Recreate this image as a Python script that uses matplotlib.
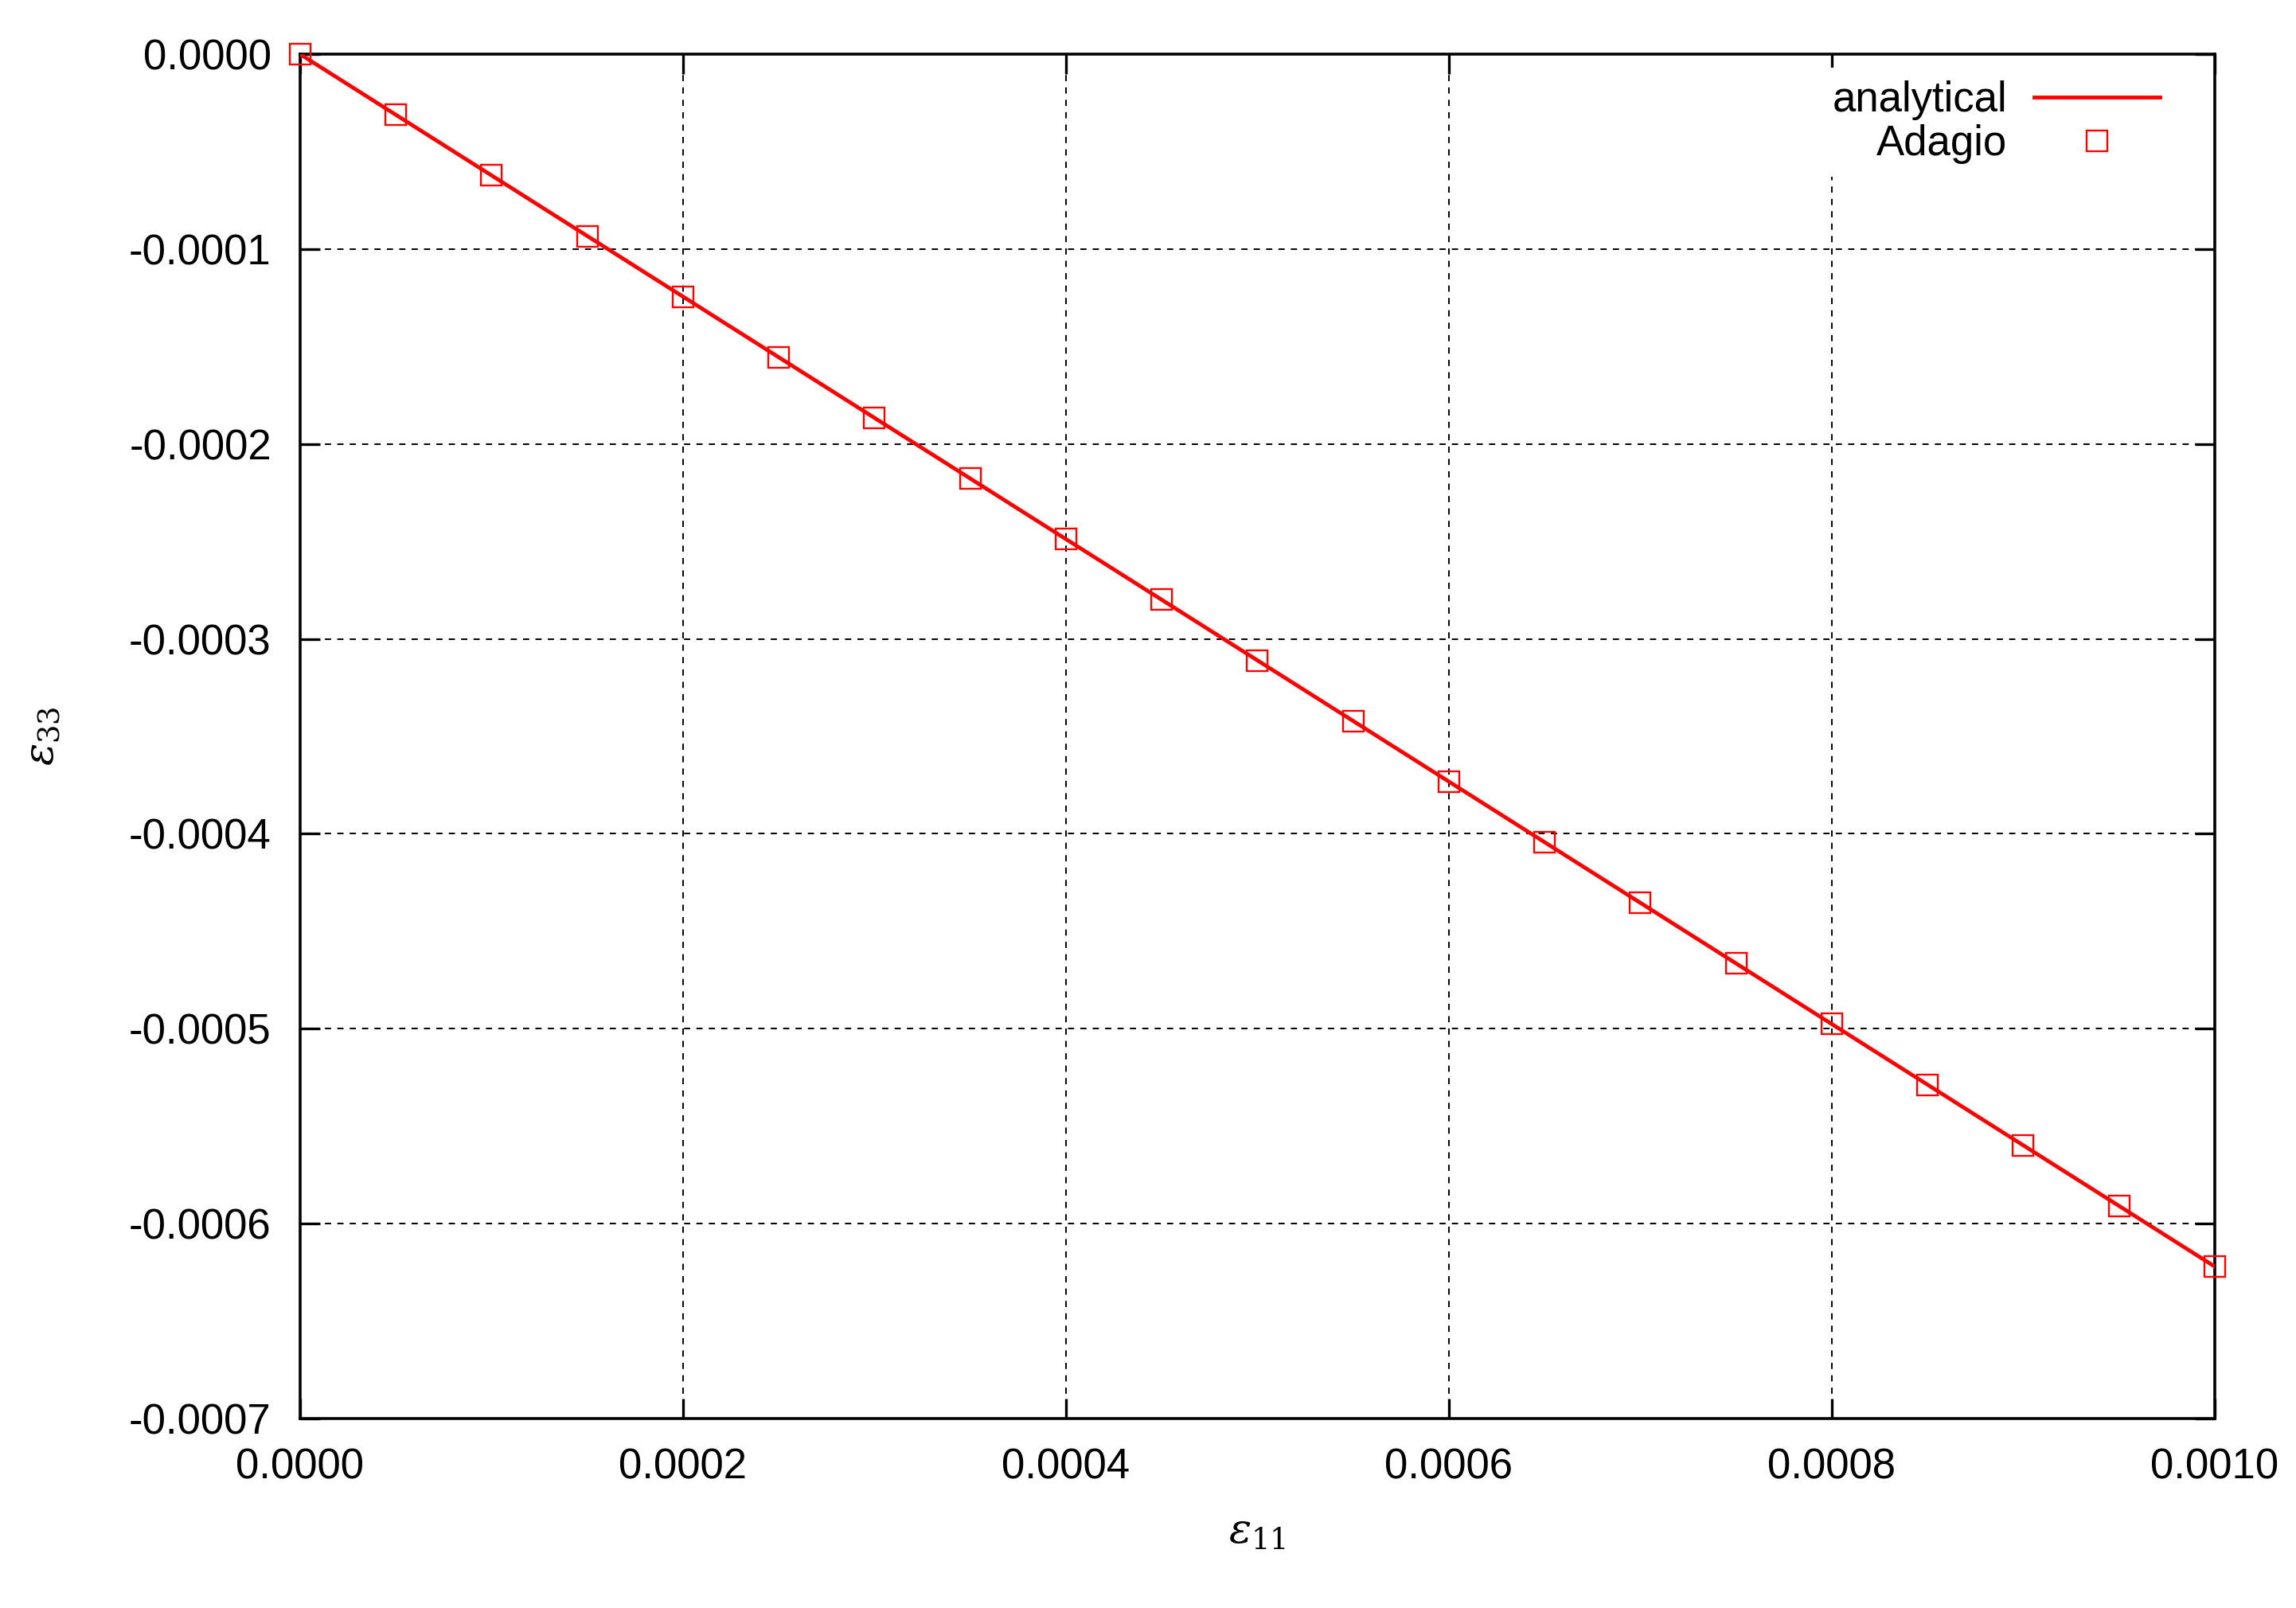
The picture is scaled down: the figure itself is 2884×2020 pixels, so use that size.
import numpy as np
import matplotlib
matplotlib.use("Agg")
import matplotlib.pyplot as plt
from matplotlib.ticker import FormatStrFormatter, MultipleLocator

# data
eps11 = [0.0, 0.00005, 0.0001, 0.00015, 0.0002, 0.00025, 0.0003, 0.00035,
         0.0004, 0.00045, 0.0005, 0.00055, 0.0006, 0.00065, 0.0007, 0.00075,
         0.0008, 0.00085, 0.0009, 0.00095, 0.001]
eps33_adagio = [0.0, -0.0000311, -0.0000622, -0.0000933, -0.0001244, -0.0001555,
                -0.0001866, -0.0002177, -0.0002488, -0.0002799, -0.000311,
                -0.0003421, -0.0003732, -0.0004043, -0.0004354, -0.0004665,
                -0.0004976, -0.0005287, -0.0005598, -0.0005909, -0.000622]
eps11_analytical = [0.0, 0.001]
eps33_analytical = [0.0, -0.000622]

plt.rcParams['font.family'] = ['Liberation Sans Narrow', 'Liberation Sans', 'DejaVu Sans']
plt.rcParams['mathtext.fontset'] = 'dejavuserif'
fs = 38

fig = plt.figure(figsize=(28.84, 20.2), dpi=100)
ax = fig.add_axes([0.1307, 0.1178, 0.8339, 0.8485])

ax.plot(eps11_analytical, eps33_analytical, color='red', lw=3.5, label='analytical', zorder=3)
ax.plot(eps11, eps33_adagio, ls='none', marker='s', ms=19, mfc='none', mec='red',
        mew=1.7, label='Adagio', clip_on=False, zorder=4)

ax.set_xlim(0, 0.001)
ax.set_ylim(-0.0007, 0)
ax.xaxis.set_major_locator(MultipleLocator(0.0002))
ax.yaxis.set_major_locator(MultipleLocator(0.0001))
ax.xaxis.set_major_formatter(FormatStrFormatter('%.4f'))
ax.yaxis.set_major_formatter(FormatStrFormatter('%.4f'))

ax.grid(True, color='black', lw=1.4, ls=(0, (4, 4)))
ax.set_axisbelow(True)
for s in ax.spines.values():
    s.set_linewidth(2.6)
ax.tick_params(direction='in', length=18, width=2.4, top=True, right=True,
               labelsize=fs, pad=26)

ax.set_xlabel(r'$\varepsilon_{11}$', fontsize=fs, labelpad=23)
ax.set_ylabel(r'$\varepsilon_{33}$', fontsize=fs, labelpad=60)

leg = ax.legend(loc='upper right', bbox_to_anchor=(0.978, 0.99), fontsize=fs,
                markerfirst=False, handlelength=3.0, handletextpad=0.63,
                labelspacing=0.1, borderpad=0.3, borderaxespad=0,
                frameon=True, fancybox=False, facecolor='white',
                edgecolor='none', framealpha=1)

fig.savefig("out.png", dpi=100)
